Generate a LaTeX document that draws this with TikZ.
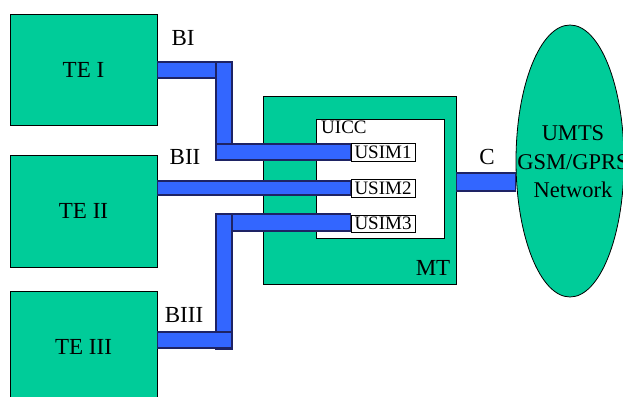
\documentclass[tikz,border=0pt]{standalone}
\usepackage{fontspec}
\setmainfont{Liberation Serif}
\usetikzlibrary{shapes.geometric}
\definecolor{tegreen}{RGB}{0,204,153}
\definecolor{barblue}{RGB}{51,102,255}
\definecolor{barline}{RGB}{30,35,100}
\tikzset{
  box/.style={draw=black, fill=tegreen, line width=0.8pt, inner sep=0pt, font=\fontsize{23}{26}\selectfont},
  whitebox/.style={draw=black, fill=white, line width=0.8pt, inner sep=0pt},
  simbox/.style={draw=black, fill=white, line width=0.8pt, inner sep=0pt, minimum width=64pt, font=\fontsize{19}{21}\selectfont},
  bar/.style={draw=barline, fill=barblue, line width=1.1pt},
  lbl/.style={inner sep=0pt, font=\fontsize{23}{26}\selectfont},
  slbl/.style={inner sep=0pt, font=\fontsize{19}{21}\selectfont},
}
\begin{document}
\begin{tikzpicture}[x=1pt,y=-1pt]
\useasboundingbox (0,0) rectangle (623,396);
% terminal equipment
\node[box, minimum width=147pt, minimum height=111pt] (te1) at (83.5,69.5) {TE I};
\node[box, minimum width=147pt, minimum height=112pt] (te2) at (83.5,211) {TE II};
\node[box, minimum width=147pt, minimum height=111pt] (te3) at (83.5,346.5) {TE III};
% mobile termination
\node[box, minimum width=193pt, minimum height=188pt] (mt) at (359.5,190) {};
\node[lbl] at (433,268) {MT};
\node[whitebox, minimum width=128pt, minimum height=119pt] (uicc) at (380,178.5) {};
\node[slbl, anchor=north west] at (321,121) {UICC};
\node[simbox, minimum height=18pt] (usim1) at (383,152) {USIM1};
\node[simbox, minimum height=18pt] (usim2) at (383,188) {USIM2};
\node[simbox, minimum height=17pt] (usim3) at (383,223.5) {USIM3};
% network
\node[ellipse, draw=black, fill=tegreen, line width=0.8pt, minimum width=108pt, minimum height=272pt, inner sep=0pt] (net) at (570,161) {};
\node[inner sep=0pt, align=center, font=\fontsize{22.5}{28.5}\selectfont] at (573,162) {UMTS\\GSM/GPRS\\Network};
% interface BI
\coordinate (ja) at (216,62);
\coordinate (jb) at (232,160);
\draw[bar] (te1.east |- 0,62) rectangle (232,78);
\draw[bar] (ja) rectangle (jb);
\draw[bar] (216,144) rectangle (usim1.west |- 0,160);
% interface BII
\draw[bar] (te2.east |- 0,181) rectangle (usim2.west |- 0,195);
% interface BIII
\draw[bar] (216,214) rectangle (usim3.west |- 0,231);
\draw[bar] (216,214) rectangle (232,349);
\draw[bar] (te3.east |- 0,332) rectangle (232,348);
% interface C
\draw[bar] (mt.east |- 0,173) rectangle (net.west |- 0,191);
% labels
\node[lbl] at (183,38) {BI};
\node[lbl] at (185,157) {BII};
\node[lbl] at (184,315) {BIII};
\node[lbl] at (487,157) {C};
\end{tikzpicture}
\end{document}
